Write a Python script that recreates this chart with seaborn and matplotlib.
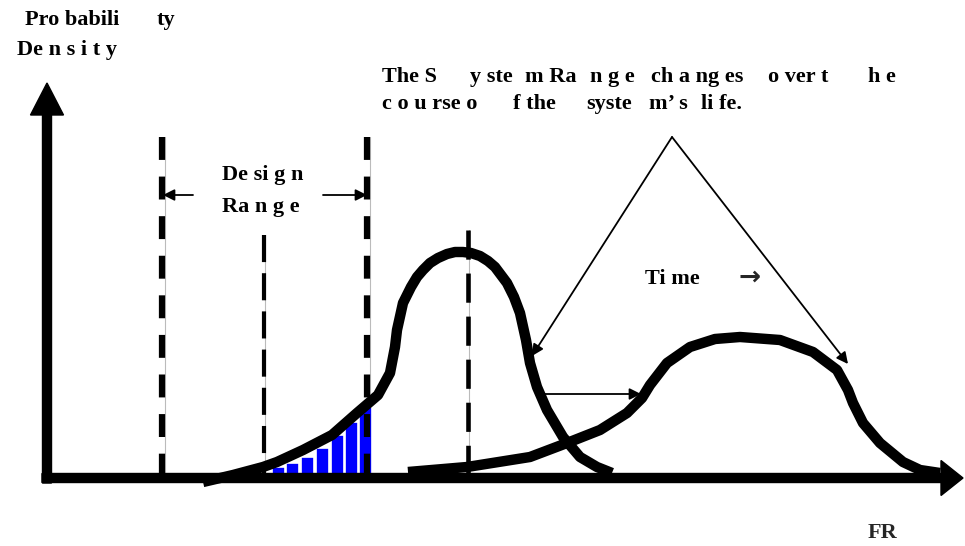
import matplotlib
matplotlib.use("Agg")
import matplotlib.pyplot as plt
import seaborn as sns
import pandas as pd

# diagram drawn in picture units: x to the right, y downwards
curve1_x = [203, 233, 263, 277, 303, 332, 357, 378, 390, 395, 397, 403, 411, 417, 423, 430, 438,
            447, 455, 463, 471, 480, 488, 495, 501, 507, 514, 520, 526, 530, 537, 547, 563,
            580, 597, 612]
curve1_y = [482, 475, 467, 462, 450, 435, 413, 395, 373, 347, 330, 303, 287, 277, 270, 263, 258,
            254, 252, 252, 253, 256, 261, 267, 275, 283, 297, 313, 340, 363, 387, 410, 437,
            457, 467, 473]

curve2_x = [408, 467, 530, 567, 600, 627, 642, 650, 667, 690, 715, 740, 780, 813, 837, 848,
            853, 863, 880, 903, 920, 940]
curve2_y = [472, 467, 457, 443, 430, 413, 398, 385, 363, 347, 339, 337, 340, 352, 370, 390,
            403, 423, 443, 462, 470, 473]

# shaded part of the tail inside the design range
bar_x = [278.5, 292.5, 307.5, 322.5, 337.5, 351.5, 365.5]
bar_top = [467, 463, 457, 448, 435, 422, 407]
bar_base = 474

design_lines = [162, 367]
mean_lines = [264, 468]

# text pieces as they are spread out in the picture
title_line1 = [(382, "The S"), (470, "y ste"), (525, "m Ra"), (590, "n g e"),
               (651, "ch a ng es"), (768, "o ver t"), (868, "h e")]
title_line2 = [(382, "c o u rse o"), (513, "f the"), (586, "syste"), (649, "m\u2019 s"),
               (701, "li fe.")]
ylabel_line1 = [(25, "Pro babili"), (157, "ty")]

sns.set_theme(style="white")
plt.rcParams['font.family'] = ['Liberation Serif', 'DejaVu Sans']
plt.rcParams['lines.scale_dashes'] = False

fig = plt.figure(figsize=(9.65, 5.46), dpi=100)
ax = fig.add_axes([0, 0, 1, 1])
ax.set_xlim(0, 965)
ax.set_ylim(546, 0)
ax.axis("off")

# bars under the first curve
bars = pd.DataFrame({"x": bar_x, "top": bar_top})
ax.bar(bars["x"], bar_base - bars["top"], bottom=bars["top"], width=13.5,
       color="#0000ff", edgecolor="white", linewidth=1.2, zorder=2)

# design range limits (thick dashed) and means (thin dashed)
for x in design_lines:
    ax.plot([x + 3, x + 3], [137, 478], color="#bbbbbb", lw=0.8, zorder=1)
    ax.plot([x, x], [137, 478], color="black", lw=4.5, dashes=(16.5, 12), zorder=3)
ax.plot([mean_lines[0] + 1, mean_lines[0] + 1], [235, 478], color="#bbbbbb", lw=0.8, zorder=1)
ax.plot([mean_lines[0], mean_lines[0]], [235, 478], color="black", lw=3, dashes=(19.5, 8), zorder=3)
ax.plot([mean_lines[1] + 1, mean_lines[1] + 1], [230, 478], color="#bbbbbb", lw=0.8, zorder=1)
ax.plot([mean_lines[1], mean_lines[1]], [230, 478], color="black", lw=3.3, dashes=(21, 10), zorder=3)

# the two distributions
for cx, cy in [(curve1_x, curve1_y), (curve2_x, curve2_y)]:
    sns.lineplot(x=cx, y=cy, sort=False, color="black", lw=7.5, ax=ax, zorder=4,
                 solid_joinstyle="round", solid_capstyle="butt")

# axes arrows
ax.arrow(47, 483, 0, -400, width=9, head_width=33, head_length=32,
         length_includes_head=True, color="black", zorder=5)
ax.arrow(42, 478, 921, 0, width=9, head_width=35, head_length=22,
         length_includes_head=True, color="black", zorder=5)

thin = dict(arrowstyle="-|>", color="black", lw=1.3, mutation_scale=17, shrinkA=0, shrinkB=0)
ax.annotate("", xy=(163, 195), xytext=(193, 195), arrowprops=thin)
ax.annotate("", xy=(367, 195), xytext=(323, 195), arrowprops=thin)
ax.annotate("", xy=(532, 356), xytext=(672, 137), arrowprops=thin)
ax.annotate("", xy=(848, 364), xytext=(672, 137), arrowprops=thin)
ax.annotate("", xy=(641, 394), xytext=(542, 394), arrowprops=thin)

bold = dict(fontsize=16, fontweight="bold", color="black", va="center", ha="left")


def place(pieces, y):
    for x, s in pieces:
        ax.text(x, y, s, **bold)


place(ylabel_line1, 20)
ax.text(17, 50, "De n s i t y", **bold)
ax.text(222, 175, "De si g n", **bold)
ax.text(222, 207, "Ra n g e", **bold)
place(title_line1, 77)
place(title_line2, 104)
ax.text(645, 279, "Ti me", **bold)
ax.text(750, 278, "\u2192", va="center", ha="center", fontsize=19, fontweight="bold",
        family=["DejaVu Sans"])
ax.text(882, 533, "FR", va="center", ha="center", fontsize=16, fontweight="bold")

fig.savefig("out.png", dpi=100)
